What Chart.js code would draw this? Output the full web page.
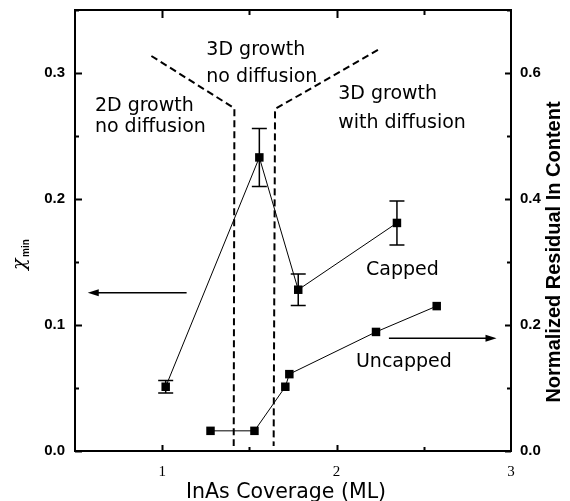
<!DOCTYPE html>
<html>
<head>
<meta charset="utf-8">
<script src="https://cdn.jsdelivr.net/npm/chart.js@4/dist/chart.umd.min.js"></script>
<style>
  html, body { margin: 0; padding: 0; background: #fff; }
  #wrap { width: 570px; height: 501px; position: relative; }
</style>
</head>
<body>
<div id="wrap"><canvas id="c"></canvas></div>
<script>
// InAs coverage (ML) and chi_min of the capped samples (left axis)
const coverageCapped = [1.02, 1.557, 1.78, 2.346];
const chiMin = [0.051, 0.233, 0.128, 0.181];
const chiMinError = [0.005, 0.023, 0.0125, 0.0175];

// InAs coverage (ML) and normalized residual In content of the uncapped samples (right axis)
const coverageUncapped = [1.277, 1.529, 1.706, 1.729, 2.226, 2.574];
const residualIn = [0.032, 0.032, 0.102, 0.122, 0.189, 0.230];

// Tick labels
const coverageTicks = [1, 2, 3];
const chiTicks = [0.0, 0.1, 0.2, 0.3];
const residualTicks = [0.0, 0.2, 0.4, 0.6];

// Growth-regime boundaries (coverage, chi_min)
const boundary2DX = [0.938, 1.414, 1.410];
const boundary2DY = [0.3135, 0.272, 0.004];
const boundary3DX = [2.237, 1.647, 1.639];
const boundary3DY = [0.3183, 0.2714, 0.004];

// Axis-pointer arrows: [xFrom, xTo, y]
const chiArrow = [1.14, 0.573, 0.1256];        // on chi_min axis
const residualArrow = [2.30, 2.917, 0.179];    // on residual axis

// Region and series labels: [text, coverage, chi_min baseline]
const regionLabels = [
  ['2D growth', 0.614, 0.2701],
  ['no diffusion', 0.614, 0.2534],
  ['3D growth', 1.253, 0.3143],
  ['no diffusion', 1.253, 0.2926],
  ['3D growth', 2.009, 0.2794],
  ['with diffusion', 2.009, 0.2561],
  ['Capped', 2.169, 0.1397],
  ['Uncapped', 2.111, 0.0664]
];

const zip = (xs, ys) => xs.map((x, i) => ({ x: x, y: ys[i] }));
const near = (v, step) => Math.abs(v / step - Math.round(v / step)) < 1e-6;

const decor = {
  id: 'decor',
  afterDatasetsDraw(chart) {
    const ctx = chart.ctx;
    const a = chart.chartArea;
    const sx = chart.scales.x, sy = chart.scales.y, sy2 = chart.scales.y2;
    ctx.save();
    ctx.strokeStyle = '#000';
    ctx.fillStyle = '#000';

    // frame
    ctx.lineWidth = 2;
    ctx.strokeRect(a.left, a.top, a.right - a.left, a.bottom - a.top);

    // inward tick marks
    ctx.beginPath();
    for (let v = 0; v <= 0.3501; v += 0.05) {
      const p = Math.round(sy.getPixelForValue(v)) + 0.5;
      const len = near(v, 0.1) ? 7 : 4;
      ctx.moveTo(a.left, p); ctx.lineTo(a.left + len, p);
    }
    for (let v = 0; v <= 0.7001; v += 0.1) {
      const p = Math.round(sy2.getPixelForValue(v)) + 0.5;
      const len = near(v, 0.2) ? 6 : 4;
      ctx.moveTo(a.right, p); ctx.lineTo(a.right - len, p);
    }
    for (let v = 1; v <= 2.5001; v += 0.5) {
      const p = Math.round(sx.getPixelForValue(v)) + 0.5;
      const major = near(v, 1);
      ctx.moveTo(p, a.bottom); ctx.lineTo(p, a.bottom - (major ? 6 : 4));
      ctx.moveTo(p, a.top); ctx.lineTo(p, a.top + (major ? 8 : 5));
    }
    ctx.stroke();

    // error bars on chi_min
    ctx.lineWidth = 1.5;
    ctx.beginPath();
    coverageCapped.forEach((c, i) => {
      const x = sx.getPixelForValue(c);
      const yt = sy.getPixelForValue(chiMin[i] + chiMinError[i]);
      const yb = sy.getPixelForValue(chiMin[i] - chiMinError[i]);
      ctx.moveTo(x, yt); ctx.lineTo(x, yb);
      ctx.moveTo(x - 7.5, yt); ctx.lineTo(x + 7.5, yt);
      ctx.moveTo(x - 7.5, yb); ctx.lineTo(x + 7.5, yb);
    });
    ctx.stroke();

    // arrows pointing to the relevant axis
    const arrow = (x0, x1, y) => {
      const dir = Math.sign(x1 - x0);
      ctx.lineWidth = 1.5;
      ctx.beginPath();
      ctx.moveTo(x0, y); ctx.lineTo(x1 - dir * 8, y);
      ctx.stroke();
      ctx.beginPath();
      ctx.moveTo(x1, y);
      ctx.lineTo(x1 - dir * 11, y - 3.5);
      ctx.lineTo(x1 - dir * 11, y + 3.5);
      ctx.closePath();
      ctx.fill();
    };
    arrow(sx.getPixelForValue(chiArrow[0]), sx.getPixelForValue(chiArrow[1]), sy.getPixelForValue(chiArrow[2]));
    arrow(sx.getPixelForValue(residualArrow[0]), sx.getPixelForValue(residualArrow[1]), sy2.getPixelForValue(residualArrow[2]));

    // region and series labels
    ctx.font = '19px "DejaVu Sans"';
    ctx.textAlign = 'left';
    ctx.textBaseline = 'alphabetic';
    regionLabels.forEach(([t, x, y]) => {
      ctx.fillText(t, sx.getPixelForValue(x), sy.getPixelForValue(y));
    });

    // x axis title
    ctx.textAlign = 'center';
    ctx.font = '20.5px "DejaVu Sans"';
    ctx.fillText('InAs Coverage (ML)', (a.left + a.right) / 2 - 7, 498);

    // right axis title
    ctx.save();
    ctx.translate(554, 252);
    ctx.rotate(-Math.PI / 2);
    ctx.textBaseline = 'middle';
    ctx.font = 'bold 20px "Liberation Sans"';
    ctx.fillText('Normalized Residual In Content', 0, 0);
    ctx.restore();

    // left axis title: chi with subscript "min"
    ctx.save();
    ctx.translate(20, 270);
    ctx.rotate(-Math.PI / 2);
    ctx.textAlign = 'left';
    ctx.textBaseline = 'middle';
    ctx.font = 'italic 19px "DejaVu Serif"';
    ctx.fillText('χ', 0, 0);
    ctx.font = 'bold 10px "Liberation Sans"';
    ctx.fillText('min', 13, 6);
    ctx.restore();

    ctx.restore();
  }
};

const markerStyle = {
  showLine: true,
  borderColor: '#000',
  backgroundColor: '#000',
  borderWidth: 1,
  pointStyle: 'rect',
  pointRadius: 6,
  pointBorderWidth: 0
};
const dashStyle = {
  showLine: true,
  borderColor: '#000',
  borderWidth: 2,
  borderDash: [7, 4],
  pointRadius: 0,
  yAxisID: 'y'
};

// fixed axis boxes so the plot frame sits at a known place
const fixBox = (w, h) => s => {
  if (w !== null) s.width = w;
  if (h !== null) s.height = h;
  s.paddingTop = 0; s.paddingBottom = 0;
  s.paddingLeft = 0; s.paddingRight = 0;
};

new Chart(document.getElementById('c'), {
  type: 'scatter',
  data: {
    datasets: [
      Object.assign({ label: 'Capped', data: zip(coverageCapped, chiMin), yAxisID: 'y' }, markerStyle),
      Object.assign({ label: 'Uncapped', data: zip(coverageUncapped, residualIn), yAxisID: 'y2' }, markerStyle),
      Object.assign({ label: '2D / 3D', data: zip(boundary2DX, boundary2DY) }, dashStyle),
      Object.assign({ label: '3D / diffusion', data: zip(boundary3DX, boundary3DY) }, dashStyle)
    ]
  },
  options: {
    responsive: true,
    maintainAspectRatio: false,
    animation: false,
    layout: { padding: { top: 10, left: 0, right: 0, bottom: 0 } },
    plugins: { legend: { display: false }, tooltip: { enabled: false } },
    scales: {
      x: {
        type: 'linear', min: 0.5, max: 3,
        grid: { display: false, drawTicks: false },
        border: { display: false },
        afterFit: fixBox(null, 50),
        ticks: {
          stepSize: 0.5, autoSkip: false, maxRotation: 0, padding: 12,
          color: '#000', font: { family: '"Liberation Serif"', size: 15 },
          callback: v => coverageTicks.includes(v) ? String(v) : ''
        }
      },
      y: {
        position: 'left', min: 0, max: 0.35,
        grid: { display: false, drawTicks: false },
        border: { display: false },
        afterFit: fixBox(75, null),
        ticks: {
          stepSize: 0.05, autoSkip: false, padding: 10,
          color: '#000', font: { family: '"Liberation Sans"', size: 15, weight: 'bold' },
          callback: v => chiTicks.some(t => Math.abs(t - v) < 1e-6) ? v.toFixed(1) : ''
        }
      },
      y2: {
        position: 'right', min: 0, max: 0.7,
        grid: { display: false, drawTicks: false },
        border: { display: false },
        afterFit: fixBox(59, null),
        ticks: {
          stepSize: 0.1, autoSkip: false, padding: 9,
          color: '#000', font: { family: '"Liberation Sans"', size: 15, weight: 'bold' },
          callback: v => residualTicks.some(t => Math.abs(t - v) < 1e-6) ? v.toFixed(1) : ''
        }
      }
    }
  },
  plugins: [decor]
});
</script>
</body>
</html>
